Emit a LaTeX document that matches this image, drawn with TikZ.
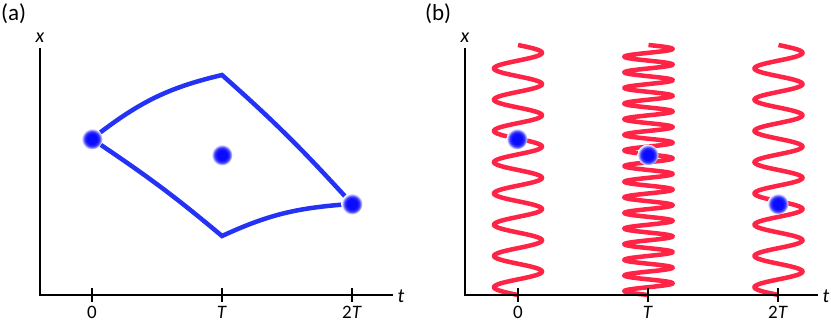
\documentclass[tikz,border=0pt]{standalone}
\usepackage{fontspec}
\setmainfont{Carlito}
\definecolor{dotblue}{RGB}{10,10,255}
\definecolor{lineblue}{RGB}{35,50,245}
\definecolor{wavered}{RGB}{255,35,70}
\pgfdeclareradialshading{dotshade}{\pgfpoint{0bp}{0bp}}{color(0bp)=(dotblue); color(12bp)=(dotblue); color(18bp)=(dotblue!80!white); color(25bp)=(white); color(50bp)=(white)}
\tikzset{
  axis/.style={line width=2pt, black},
  tickmark/.style={line width=2pt, black},
  curve/.style={line width=4.5pt, lineblue},
  wave/.style={line width=4.5pt, wavered},
  dot/.style={circle, minimum size=21pt, inner sep=0pt, shade, shading=dotshade},
  lbl/.style={font=\fontsize{20}{24}\selectfont\itshape, anchor=base, inner sep=0pt},
  ticklbl/.style={font=\fontsize{19}{22}\selectfont, anchor=base, inner sep=0pt},
  panel/.style={font=\fontsize{23}{26}\selectfont, anchor=base west, inner sep=0pt}
}
\begin{document}
\begin{tikzpicture}[x=1pt,y=1pt]
\useasboundingbox (0,0) rectangle (831,-326);
% ---------- panel (a)
\node[panel] (pa) at (1,-21) {(a)};
\coordinate (ay0) at (40,-48);
\coordinate (aorig) at (40,-295);
\coordinate (ax1) at (393,-295);
\draw[axis] (ay0) -- (aorig) -- (ax1);
\node[lbl] (axl) at (40,-43) {x};
\node[lbl] (atl) at (401,-302) {t};
\foreach \p/\l/\n in {92/0/a0l,222/\textit{T}/aTl,352/2\textit{T}/a2l}{
  \coordinate (\n t) at (\p,-288);
  \coordinate (\n b) at (\p,-302);
  \draw[tickmark] (\n t) -- (\n b);
  \node[ticklbl] (\n) at (\p,-318) {\l};
}
\coordinate (atop) at (222,-75);
\coordinate (abot) at (222,-236);
\node[dot] (da0) at (92,-139) {};
\node[dot] (da1) at (222,-155) {};
\node[dot] (da2) at (352,-204) {};
\draw[curve] (da0) to[bend left=12] (atop) to[bend left=3] (da2);
\draw[curve] (da0) to[bend left=3] (abot) to[bend left=10] (da2);
\node[dot] at (da0) {};
\node[dot] at (da2) {};
% ---------- panel (b)
\node[panel] (pb) at (425,-21) {(b)};
\coordinate (by0) at (465,-48);
\coordinate (borig) at (465,-295);
\coordinate (bx1) at (818,-295);
\draw[wave] plot[variable=\s, domain=45:295, samples=600] ({518+24*sin((\s-45)*11.52)}, {-\s});
\draw[wave] plot[variable=\s, domain=45:295, samples=900] ({648.5+24*sin((\s-45)*23.04)}, {-\s});
\draw[wave] plot[variable=\s, domain=45:295, samples=600] ({778.5+24*sin((\s-45)*11.52)}, {-\s});
\draw[axis] (by0) -- (borig) -- (bx1);
\node[lbl] (bxl) at (465,-43) {x};
\node[lbl] (btl) at (826,-302) {t};
\foreach \p/\l/\n in {518/0/b0l,648/\textit{T}/bTl,778/2\textit{T}/b2l}{
  \coordinate (\n t) at (\p,-288);
  \coordinate (\n b) at (\p,-302);
  \draw[tickmark] (\n t) -- (\n b);
  \node[ticklbl] (\n) at (\p,-318) {\l};
}
\node[dot] (db0) at (517,-139) {};
\node[dot] (db1) at (648,-155) {};
\node[dot] (db2) at (778,-204) {};
\end{tikzpicture}
\end{document}
